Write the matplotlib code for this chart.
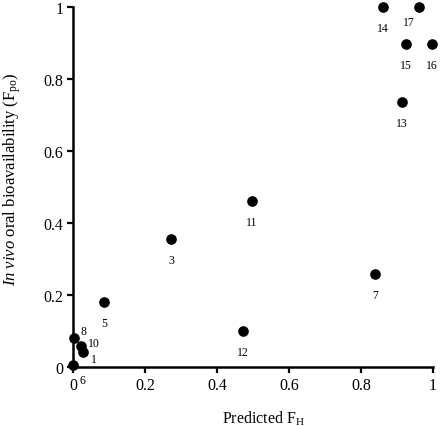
import matplotlib
matplotlib.use("Agg")
import matplotlib.pyplot as plt

plt.rcParams["font.family"] = ["Liberation Serif", "DejaVu Serif"]
plt.rcParams["mathtext.fontset"] = "custom"
plt.rcParams["mathtext.rm"] = "Liberation Serif"
plt.rcParams["mathtext.it"] = "Liberation Serif:italic"

# compound id, predicted F_H, in vivo F_po
ids = ["1", "3", "5", "6", "7", "8", "10", "11", "12", "13", "14", "15", "16", "17"]
pred_fh = [0.028, 0.272, 0.086, 0.0, 0.839, 0.003, 0.022, 0.497, 0.472, 0.914, 0.861, 0.925, 0.997, 0.961]
fpo = [0.042, 0.356, 0.180, 0.006, 0.258, 0.081, 0.058, 0.461, 0.100, 0.736, 1.0, 0.897, 0.897, 1.0]

# label offsets in points (dx, dy)
offsets = {"1": (8, -5), "6": (7, -11), "8": (7, 5), "10": (9, 2), "17": (-7, -11)}

fig = plt.figure(figsize=(4.4, 4.27), dpi=100)
ax = fig.add_axes([0.166, 0.138, 0.818, 0.843])
ax.scatter(pred_fh, fpo, s=44, color="black", zorder=3, clip_on=False)
for name, x, y in zip(ids, pred_fh, fpo):
    dx, dy = offsets.get(name, (0, -15))
    ax.annotate(name, (x, y), xytext=(dx, dy), textcoords="offset points",
                ha="center", va="center", fontsize=8.5)

ax.set_xlim(0, 1)
ax.set_ylim(0, 1)
ticks = [0, 0.2, 0.4, 0.6, 0.8, 1]
ticklabels = ["0", "0.2", "0.4", "0.6", "0.8", "1"]
ax.set_xticks(ticks, ticklabels)
ax.set_yticks(ticks, ticklabels)
ax.tick_params(direction="out", length=4, width=1.6, color="black",
               labelsize=11.5, pad=3)
for s in ["top", "right"]:
    ax.spines[s].set_visible(False)
for s in ["left", "bottom"]:
    ax.spines[s].set_linewidth(1.8)
    ax.spines[s].set_color("black")
    ax.spines[s].set_zorder(2)

ax.set_xlabel("Predicted F$_\\mathrm{H}$", fontsize=11.5)
ax.set_ylabel("$\\it{In\\ vivo}$ oral bioavailability (F$_\\mathrm{po}$)", fontsize=12)
ax.xaxis.set_label_coords(0.53, -0.115)
ax.yaxis.set_label_coords(-0.14, 0.525)

fig.savefig("out.png", dpi=100)
